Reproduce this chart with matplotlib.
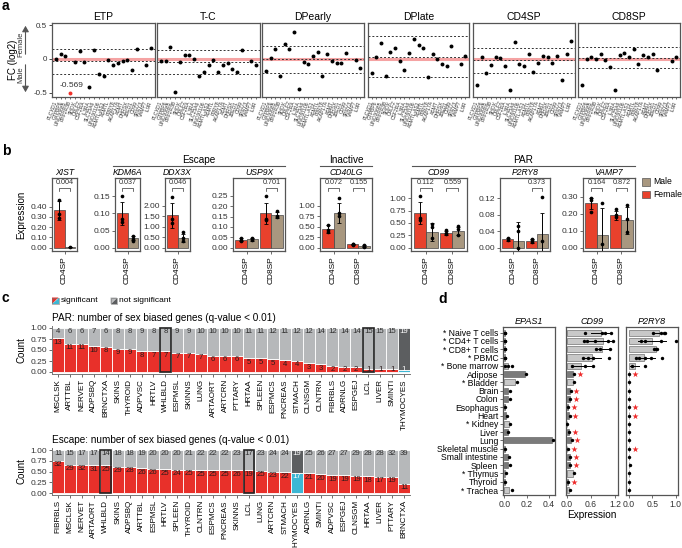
import numpy as np
import matplotlib
matplotlib.use("Agg")
import matplotlib.pyplot as plt
from matplotlib.patches import Polygon

plt.rcParams["font.family"] = ["Liberation Sans", "DejaVu Sans"]
plt.rcParams["axes.unicode_minus"] = False

nan = np.nan

#---------------------------------------------- data: panel a ----------------------------------------------#
a_genes = ["PLCXD1", "GTPBP6", "LINC00685", "PPP2R3B", "SHOX", "CRLF2", "CSF2RA", "IL3RA",
           "SLC25A6", "LINC00106", "ASMTL-AS1", "ASMTL", "P2RY8", "AKAP17A", "ASMT", "DHRSX",
           "ZBED1", "CD99", "SPRY3", "VAMP7", "IL9R"]
a_cells = ["ETP", "T-C", "DPearly", "DPlate", "CD4SP", "CD8SP"]
a_fc_etp = [-0.005, 0.07, 0.04, -0.569, -0.04, 0.12, -0.05, -0.415, 0.135, -0.225, -0.255,
            -0.02, -0.09, -0.06, -0.025, -0.02, -0.165, 0.145, nan, -0.085, 0.16]
a_fc_tc = [-0.03, -0.03, 0.18, -0.49, -0.04, 0.065, 0.055, 0.0, -0.255, -0.2, -0.09,
           -0.02, -0.2, -0.09, -0.055, -0.155, -0.2, 0.14, nan, -0.025, -0.095]
a_fc_dpearly = [-0.18, 0.02, 0.15, -0.25, 0.22, 0.15, 0.40, -0.45, -0.05, -0.075, 0.05,
                0.10, -0.255, 0.07, -0.035, -0.055, -0.055, 0.09, nan, -0.015, -0.13]
a_fc_dplate = [-0.21, 0.025, 0.24, -0.25, 0.11, 0.17, -0.025, -0.17, 0.095, 0.30, 0.205,
               0.16, -0.265, 0.07, 0.005, -0.07, -0.11, 0.19, nan, -0.075, 0.04]
a_fc_cd4sp = [-0.385, 0.025, -0.21, -0.095, 0.025, 0.01, -0.105, -0.47, 0.26, -0.08, -0.11,
              0.075, -0.2, -0.065, 0.05, 0.035, -0.055, 0.05, -0.315, 0.08, 0.275]
a_fc_cd8sp = [-0.385, 0.005, 0.025, 0.0, 0.075, -0.02, -0.125, -0.47, 0.065, 0.085, 0.025,
              0.155, -0.07, 0.06, 0.03, 0.07, -0.16, nan, nan, -0.025, 0.025]
# dotted lines (upper, middle, lower) per cell type
a_dotted = [[0.155, -0.035, -0.225], [0.13, -0.05, -0.23], [0.19, 0.0, -0.21],
            [0.34, 0.035, -0.265], [0.17, -0.015, -0.215], [0.18, 0.02, -0.135]]

#---------------------------------------------- data: panel b ----------------------------------------------#
b_genes = ["XIST", "KDM6A", "DDX3X", "USP9X", "CD40LG", "CD99", "P2RY8", "VAMP7"]
b_cells = [["CD4SP"], ["CD4SP"], ["CD4SP"], ["CD4SP", "CD8SP"], ["CD4SP", "CD8SP"],
           ["CD4SP", "CD8SP"], ["CD4SP", "CD8SP"], ["CD4SP", "CD8SP"]]
b_fem_bar = [[0.363], [0.10], [1.55], [0.038, 0.165], [0.445, 0.08], [0.70, 0.30], [0.02, 0.016], [0.26, 0.19]]
b_fem_err = [[0.095], [0.035], [0.6], [0.007, 0.05], [0.09, 0.01], [0.22, 0.04], [0.004, 0.004], [0.035, 0.025]]
b_fem_pts = [[[0.47, 0.33, 0.29]], [[0.15, 0.085, 0.075]], [[2.45, 1.37, 1.2]],
             [[0.047, 0.033, 0.035], [0.25, 0.135, 0.14]],
             [[0.55, 0.43, 0.37], [0.09, 0.08, 0.07]],
             [[1.04, 0.6, 0.55], [0.36, 0.3, 0.28]],
             [[0.024, 0.018], [0.022, 0.018, 0.013]],
             [[0.29, 0.28, 0.21], [0.225, 0.19, 0.18]]]
b_male_bar = [[0.003], [0.027], [0.46], [0.04, 0.157], [0.84, 0.04], [0.32, 0.34], [0.016, 0.034], [0.075, 0.16]]
b_male_err = [[0.0], [0.006], [0.2], [0.006, 0.015], [0.24, 0.02], [0.18, 0.08], [0.046, 0.05], [0.16, 0.08]]
b_male_pts = [[[0.002]], [[0.033, 0.025, 0.02]], [[0.73, 0.44, 0.3]],
              [[0.047, 0.04, 0.035], [0.175, 0.15, 0.155]],
              [[1.2, 0.83, 0.77], [0.06, 0.04, 0.02]],
              [[0.47, 0.42, 0.2], [0.44, 0.37, 0.26]],
              [[0.053, 0.04, 0.0], [0.123, 0.017]],
              [[0.265, 0.02], [0.25, 0.17, 0.09]]]
b_pvals = [["0.004"], ["0.037"], ["0.046"], [None, "0.701"], ["0.072", "0.155"],
           ["0.112", "0.559"], [None, "0.373"], ["0.164", "0.872"]]
b_yticks = [[0, 0.1, 0.2, 0.3, 0.4], [0, 0.05, 0.10, 0.15], [0, 0.5, 1.0, 1.5, 2.0],
            [0, 0.05, 0.10, 0.15, 0.20, 0.25], [0, 0.25, 0.5, 0.75, 1.0], [0, 0.25, 0.5, 0.75, 1.0],
            [0, 0.04, 0.08, 0.12], [0, 0.1, 0.2, 0.3]]
b_ylim = [(-0.033, 0.68), (-0.01, 0.204), (-0.16, 3.34), (-0.016, 0.336), (-0.08, 1.67),
          (-0.068, 1.41), (-0.008, 0.169), (-0.02, 0.41)]

#---------------------------------------------- data: panel c ----------------------------------------------#
c_par_tissues = ["MSCLSK", "ARTTBL", "NERVET", "ADPSBQ", "BRNCTXA", "SKINS", "THYROID", "ADPVSC",
                 "HRTLV", "WHLBLD", "ESPMSL", "SKINNS", "LUNG", "ARTAORT", "ARTCRN", "PTTARY",
                 "HRTAA", "SPLEEN", "ESPMCS", "PNCREAS", "STMACH", "CLNSGM", "CLNTRN", "FIBRBLS",
                 "ADRNLG", "ESPGEJ", "LCL", "LIVER", "SMINTI", "THYMOCYES"]
c_par_sig = [13, 11, 11, 10, 8, 9, 9, 8, 7, 7, 7, 7, 7, 6, 6, 6, 5, 5, 5, 4, 4, 3, 3, 2, 2, 2, 1, 1, 1, 1]
c_par_nsig = [4, 6, 6, 7, 6, 8, 8, 9, 8, 8, 9, 9, 10, 10, 10, 10, 11, 11, 12, 11, 12, 12, 14, 12,
              14, 14, 15, 15, 15, 19]
c_esc_tissues = ["FIBRBLS", "MSCLSK", "NERVET", "ARTAORT", "WHLBLD", "SKINS", "ADPSBQ", "ARTTBL",
                 "ESPMSL", "HRTLV", "SPLEEN", "THYROID", "CLNTRN", "ESPMCS", "PNCREAS", "SKINNS",
                 "LCL", "LUNG", "ARTCRN", "STMACH", "THYMOCYES", "ADRNLG", "SMINTI", "ADPVSC",
                 "ESPGEJ", "CLNSGM", "HRTAA", "LIVER", "PTTARY", "BRNCTXA"]
c_esc_sig = [32, 29, 32, 31, 25, 29, 28, 26, 26, 25, 24, 25, 25, 25, 25, 26, 19, 25, 23, 22, 17,
             21, 20, 19, 19, 19, 18, 17, 19, 11]
c_esc_nsig = [11, 15, 17, 17, 14, 18, 18, 19, 20, 20, 20, 21, 22, 22, 22, 23, 17, 23, 24, 24, 19,
              25, 26, 27, 27, 29, 28, 28, 32, 39]
c_boxed = ["WHLBLD", "LCL"]

#---------------------------------------------- data: panel d ----------------------------------------------#
d_tissues = ["* Naive T cells", "* CD4+ T cells", "* CD8+ T cells", "* PBMC", "* Bone marrow",
             "Adipose", "* Bladder", "Brain", "Colon", "Esophagus", "Heart", "* Kidney", "Liver",
             "Lung", "Skeletal muscle", "Small intestine", "Spleen", "* Thymus", "Thyroid", "* Trachea"]
d_genes = ["EPAS1", "CD99", "P2RY8"]
d_epas1_bar = [0.003, 0.003, 0.003, 0.003, 0.035, 0.19, 0.10, 0.03, 0.03, 0.005, 0.018, 0.04,
               0.03, 0.43, 0.003, 0.03, 0.03, 0.01, 0.008, 0.04]
d_epas1_pts = [[0.005, 0.008], [0.005, 0.008], [0.005, 0.008], [0.005, 0.007], [0.005, 0.035, 0.065],
               [0.195], [0.115], [0.05], [0.055], [0.005], [0.025], [0.05], [0.035], [0.435],
               [0.003], [0.045], [0.05], [0.015], [0.01], [0.065]]
d_cd99_bar = [0.86, 0.90, 0.88, 0.62, 0.36, 0.15, 0.15, 0.07, 0.07, 0.03, 0.06, 0.02, 0.05, 0.10,
              0.02, 0.07, 0.07, 0.15, 0.03, 0.05]
d_cd99_pts = [[0.46, 0.88, 0.94, 1.1], [0.44, 0.5, 0.7, 1.02, 1.14], [0.72, 0.84, 1.08],
              [0.4, 0.52, 0.65, 1.06], [0.12, 0.46, 0.66], [0.18], [0.17], [0.10], [0.08], [0.03],
              [0.07], [0.02], [0.06], [0.12], [0.03], [0.08], [0.08], [0.17], [0.04], [0.07]]
d_cd99_err = [(0.6, 1.1), (0.45, 1.14), (0.7, 1.08), (0.4, 0.85), (0.1, 0.62)]
d_cd99_star = [5, 7, 8, 9, 10, 12, 13, 14, 15, 16, 18]
d_p2ry8_bar = [0.64, 0.50, 0.57, 0.33, 0.12, 0.01, 0.01, 0.005, 0.005, 0.005, 0.005, 0.005, 0.005,
               0.005, 0.005, 0.005, 0.01, 0.005, 0.005, 0.005]
d_p2ry8_pts = [[0.52, 0.68, 0.74, 0.78], [0.26, 0.34, 0.68, 1.0], [0.54, 0.58, 0.6],
               [0.16, 0.22, 0.35, 0.48, 0.7], [0.06, 0.34], [0.01], [0.01], [0.005], [0.005],
               [0.005], [0.005], [0.005], [0.005], [0.005], [0.005], [0.005], [0.015], [0.005],
               [0.005], [0.005]]
d_p2ry8_err = [(0.52, 0.78), (0.2, 0.8), (0.53, 0.61), (0.12, 0.55), (0.02, 0.22)]
d_p2ry8_star = [5, 9, 10, 14]

#---------------------------------------------- styling ----------------------------------------------#
RED = "#E8412C"
TAN = "#A8977F"
SIG_RED = "#E8302A"
SIG_BLUE = "#3DB7D4"
NS_GRAY = "#B6B8BA"
NS_DARK = "#5C5E60"
BOX = "#555555"

W, H = 682, 548
fig = plt.figure(figsize=(W / 100, H / 100), dpi=100)


def px_axes(x0, y0, x1, y1):
    return fig.add_axes([x0 / W, 1 - y1 / H, (x1 - x0) / W, (y1 - y0) / H])


def box_spines(ax, color=BOX, lw=0.9):
    for s in ax.spines.values():
        s.set_color(color)
        s.set_linewidth(lw)


#---------------------------------------------- panel a ----------------------------------------------#
a_boxes = [(52, 155), (157, 260), (262, 364), (368, 469), (473, 575), (578, 680)]
a_all = [a_fc_etp, a_fc_tc, a_fc_dpearly, a_fc_dplate, a_fc_cd4sp, a_fc_cd8sp]
a_x = np.arange(len(a_genes))

for i, (cell, vals, lines) in enumerate(zip(a_cells, a_all, a_dotted)):
    x0, x1 = a_boxes[i]
    ax = px_axes(x0, 23, x1, 97)
    ax.axhline(0, color="#F5A3A3", lw=2.2, zorder=1)
    for yl in lines:
        ax.axhline(yl, color="#333333", lw=0.7, ls=(0, (2, 2)), zorder=2)
    v = np.array(vals, dtype=float)
    low = v < -0.5
    ax.scatter(a_x[~low], v[~low], s=8, color="black", zorder=3, linewidths=0)
    if low.any():
        ax.scatter(a_x[low], np.full(low.sum(), -0.508), s=8, color="#F0312A", zorder=3, linewidths=0)
        for xi, vi in zip(a_x[low], v[low]):
            ax.text(xi + 0.2, -0.39, f"{vi:.3f}", fontsize=6, color="#333333", ha="center", va="center")
    ax.set_xlim(-0.8, 20.8)
    ax.set_ylim(-0.567, 0.537)
    ax.set_xticks(a_x)
    ax.set_xticklabels(a_genes, rotation=70, ha="right", va="center", rotation_mode="anchor",
                       fontsize=3.6, color="#333333")
    ax.tick_params(axis="x", length=1.5, width=0.5, pad=1.5, colors="#333333")
    ax.set_title(cell, fontsize=7.5, pad=2.5)
    if i == 0:
        ax.set_yticks([0.5, 0, -0.5])
        ax.set_yticklabels(["0.5", "0", "-0.5"], fontsize=5.8, color="#333333")
        ax.tick_params(axis="y", length=2, width=0.5, pad=1.5)
    else:
        ax.set_yticks([])
    box_spines(ax)

#---------------------------------------------- panel b ----------------------------------------------#
b_boxes = [(52, 77), (115, 140), (165, 190), (233, 285), (320, 372), (411, 467), (500, 550), (583, 635)]
bw = 0.45

for i, gene in enumerate(b_genes):
    x0, x1 = b_boxes[i]
    ax = px_axes(x0, 178, x1, 251)
    ncell = len(b_cells[i])
    gx = np.arange(1, ncell + 1)
    fx = gx - bw / 2
    mx = gx + bw / 2
    ax.bar(fx, b_fem_bar[i], width=bw, color=RED, edgecolor="#444444", lw=0.5, zorder=2)
    ax.bar(mx, b_male_bar[i], width=bw, color=TAN, edgecolor="#444444", lw=0.5, zorder=2)
    ax.errorbar(fx, b_fem_bar[i], yerr=b_fem_err[i], fmt="none", ecolor="black", elinewidth=0.7,
                capsize=1.2, capthick=0.6, zorder=3)
    ax.errorbar(mx, b_male_bar[i], yerr=b_male_err[i], fmt="none", ecolor="black", elinewidth=0.7,
                capsize=1.2, capthick=0.6, zorder=3)
    for k in range(ncell):
        fp = b_fem_pts[i][k]
        mp = b_male_pts[i][k]
        ax.scatter(np.full(len(fp), fx[k]), fp, s=7, color="black", zorder=4, linewidths=0)
        ax.scatter(np.full(len(mp), mx[k]), mp, s=7, color="black", zorder=4, linewidths=0)
        p = b_pvals[i][k]
        if p is not None:
            tr = ax.get_xaxis_transform()
            ax.plot([fx[k], fx[k], mx[k], mx[k]], [0.82, 0.862, 0.862, 0.82], color="#333333",
                    lw=0.5, transform=tr, clip_on=False)
            ax.text(gx[k], 0.885, p, fontsize=5.2, color="#333333", ha="center", va="bottom",
                    transform=tr)
    ax.set_xlim(0.45, ncell + 0.55)
    ax.set_ylim(*b_ylim[i])
    ax.set_xticks(gx)
    ax.set_xticklabels(b_cells[i], rotation=90, fontsize=6)
    ax.set_yticks(b_yticks[i])
    ax.set_yticklabels([f"{t:.2f}" for t in b_yticks[i]], fontsize=6, color="#333333")
    ax.tick_params(length=2, width=0.5, pad=1.5, colors="#333333")
    ax.tick_params(axis="x", labelcolor="black")
    ax.set_title(gene, fontsize=6.2, style="italic", pad=2)
    box_spines(ax)
    if i == 0:
        ax.set_ylabel("Expression", fontsize=7, labelpad=3)

#---------------------------------------------- panel c ----------------------------------------------#


def draw_counts(ax, tissues, sig, nsig):
    sig = np.array(sig, dtype=float)
    nsig = np.array(nsig, dtype=float)
    frac = sig / (sig + nsig)
    x = np.arange(len(tissues))
    thy = np.array([t == "THYMOCYES" for t in tissues])
    lower_cols = [SIG_BLUE if t else SIG_RED for t in thy]
    upper_cols = [NS_DARK if t else NS_GRAY for t in thy]
    ax.bar(x, frac, width=1, color=lower_cols, edgecolor="white", lw=0.6)
    ax.bar(x, 1 - frac, bottom=frac, width=1, color=upper_cols, edgecolor="white", lw=0.6)
    for k, t in enumerate(tissues):
        if t in c_boxed:
            ax.bar(x[k], 1.0, width=0.9, fill=False, edgecolor="#222222", lw=1.2, zorder=4)
        top_col = "white" if thy[k] else "#2f2f2f"
        ax.text(x[k], 0.93, f"{int(nsig[k])}", fontsize=5.6, ha="center", va="center", color=top_col)
        ax.text(x[k], max(frac[k] - 0.09, 0.06), f"{int(sig[k])}", fontsize=5.6, ha="center",
                va="center", color="white" if thy[k] else "#2a1a1a")
    ax.set_xlim(-0.5, len(tissues) - 0.5)
    ax.set_ylim(-0.05, 1.05)
    ax.set_xticks(x)
    ax.set_xticklabels(tissues, rotation=90, fontsize=5.8)
    ax.set_yticks([0, 0.25, 0.5, 0.75, 1.0])
    ax.set_yticklabels(["0.00", "0.25", "0.50", "0.75", "1.00"], fontsize=6, color="#333333")
    ax.tick_params(length=2, width=0.5, pad=1.5, colors="#333333")
    ax.tick_params(axis="x", labelcolor="black")
    ax.spines["top"].set_visible(False)
    ax.spines["right"].set_visible(False)
    for s in ("left", "bottom"):
        ax.spines[s].set_color("#777777")
        ax.spines[s].set_linewidth(0.7)
    ax.set_ylabel("Count", fontsize=7, labelpad=3)


ax_par = px_axes(52, 325.8, 410, 374.2)
draw_counts(ax_par, c_par_tissues, c_par_sig, c_par_nsig)
ax_esc = px_axes(52, 447.9, 410, 495.2)
draw_counts(ax_esc, c_esc_tissues, c_esc_sig, c_esc_nsig)

#---------------------------------------------- panel d ----------------------------------------------#
d_boxes = [(503, 555), (566, 618), (626, 678)]
d_bars = [d_epas1_bar, d_cd99_bar, d_p2ry8_bar]
d_pts = [d_epas1_pts, d_cd99_pts, d_p2ry8_pts]
d_errs = [None, d_cd99_err, d_p2ry8_err]
d_stars = [[], d_cd99_star, d_p2ry8_star]
d_xlims = [(-0.012, 0.455), (-0.017, 1.275), (-0.064, 1.05)]
d_xticks = [[0.0, 0.2, 0.4], [0.0, 0.6, 1.2], [0.0, 0.5, 1.0]]
d_star_off = [0, 0.14, 0.12]
y = np.arange(len(d_tissues))
bar_cols = ["#C8C8C8" if t.startswith("*") else "#7B7B7B" for t in d_tissues]

for j, gene in enumerate(d_genes):
    x0, x1 = d_boxes[j]
    ax = px_axes(x0, 327, x1, 495)
    ax.barh(y, d_bars[j], height=0.75, color=bar_cols, edgecolor="#555555", lw=0.4, zorder=2)
    if d_errs[j] is not None:
        for r, (lo, hi) in enumerate(d_errs[j]):
            ax.plot([lo, hi], [r, r], color="black", lw=0.7, zorder=3)
    for r, pts in enumerate(d_pts[j]):
        ax.scatter(pts, np.full(len(pts), r), s=6, color="black", zorder=4, linewidths=0)
    for r in d_stars[j]:
        ax.scatter([max(d_pts[j][r]) + d_star_off[j]], [r], marker="*", s=22, color="#EE2A2A",
                   zorder=4, linewidths=0)
    ax.set_xlim(*d_xlims[j])
    ax.set_ylim(19.6, -0.69)
    ax.set_xticks(d_xticks[j])
    ax.set_xticklabels([f"{t:.1f}" for t in d_xticks[j]], fontsize=6.2, color="#333333")
    ax.tick_params(length=2, width=0.5, pad=1.5, colors="#333333")
    ax.set_yticks(y)
    if j == 0:
        ax.set_yticklabels(d_tissues, fontsize=6.2, color="black")
    else:
        ax.set_yticklabels([])
        ax.tick_params(axis="y", length=0)
    if j == 1:
        ax.set_xlabel("Expression", fontsize=7.2, labelpad=1)
    ax.set_title(gene, fontsize=6.5, style="italic", pad=2)
    box_spines(ax)

#---------------------------------------------- annotations ----------------------------------------------#
ov = fig.add_axes([0, 0, 1, 1])
ov.set_xlim(0, W)
ov.set_ylim(H, 0)
ov.axis("off")

for letter, (lx, ly) in {"a": (2, 6), "b": (2, 151), "c": (2, 298), "d": (438, 299)}.items():
    ov.text(lx, ly, letter, fontsize=10, fontweight="bold", va="center", ha="left")

# panel a y-label and direction arrows
ov.text(12.5, 60, "FC (log2)", rotation=90, fontsize=7, ha="center", va="center")
ov.text(21, 44, "Female", rotation=90, fontsize=5.5, ha="center", va="center", color="#333333")
ov.text(21, 75, "Male", rotation=90, fontsize=5.5, ha="center", va="center", color="#333333")
ov.annotate("", xy=(25.5, 23), xytext=(25.5, 57),
            arrowprops=dict(arrowstyle="-|>,head_length=0.35,head_width=0.2", color="#555555", lw=0.8))
ov.annotate("", xy=(25.5, 95), xytext=(25.5, 62),
            arrowprops=dict(arrowstyle="-|>,head_length=0.35,head_width=0.2", color="#555555", lw=0.8))

# panel b group headers
for name, (hx0, hx1) in {"Escape": (113, 285), "Inactive": (320, 372), "PAR": (412, 635)}.items():
    ov.plot([hx0, hx1], [166, 166], color="#555555", lw=0.8)
    ov.text((hx0 + hx1) / 2, 160, name, fontsize=7.2, ha="center", va="center")

# panel b legend
for k, (lab, col) in enumerate([("Male", TAN), ("Female", RED)]):
    yy = 178 + k * 12.7
    ov.add_patch(plt.Rectangle((642, yy), 8, 7.7, facecolor=col, edgecolor="#555555", lw=0.5))
    ov.text(653.5, yy + 3.9, lab, fontsize=6.2, va="center", ha="left")

# panel c legend
for (lx, c1, c2, lab) in [(52, SIG_RED, SIG_BLUE, "significant"), (110.5, NS_GRAY, NS_DARK, "not significant")]:
    ov.add_patch(Polygon([(lx, 297.5), (lx, 304), (lx + 6.5, 297.5)], closed=True, facecolor=c1, lw=0))
    ov.add_patch(Polygon([(lx, 304), (lx + 6.5, 304), (lx + 6.5, 297.5)], closed=True, facecolor=c2, lw=0))
    ov.add_patch(plt.Rectangle((lx, 297.5), 6.5, 6.5, fill=False, edgecolor="#777777", lw=0.4))
    ov.text(lx + 8.5, 300.8, lab, fontsize=6, va="center", ha="left")

ov.text(52, 318, "PAR: number of sex biased genes (q-value < 0.01)", fontsize=7.2, va="center", ha="left")
ov.text(52, 440, "Escape: number of sex biased genes (q-value < 0.01)", fontsize=7.2, va="center", ha="left")

fig.savefig("out.png", dpi=100)
